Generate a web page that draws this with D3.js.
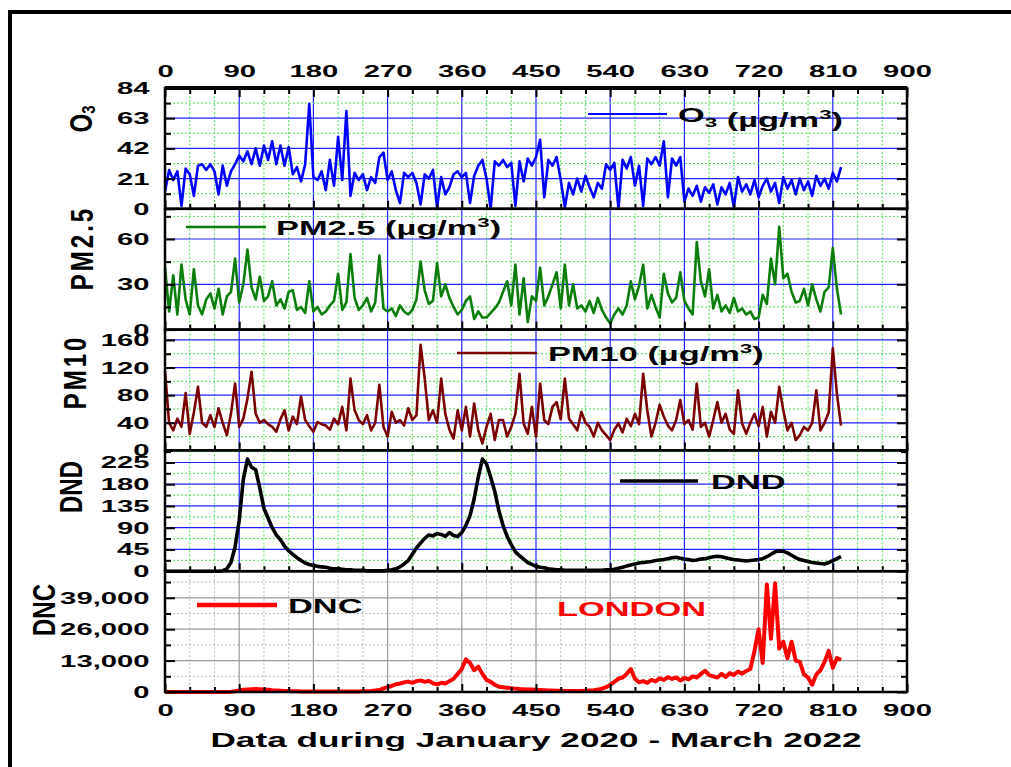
<!DOCTYPE html>
<html>
<head>
<meta charset="utf-8">
<script src="https://cdn.jsdelivr.net/npm/d3@7"></script>
<style>
  body { margin: 0; background: #fff; }
  text { font-family: "Liberation Sans", Arial, sans-serif; font-weight: bold; }
</style>
</head>
<body>
<svg width="1011" height="767"></svg>
<script>
// day index (every 5 days, Jan 2020 - Mar 2022)
const days = d3.range(0, 821, 5);

// values, one per 5 days
const o3 = [
  12,27,20,26,2,28,24,9,30,31,
  27,31,26,10,30,16,26,31,37,33,
  40,31,42,30,44,34,47,31,44,30,
  43,24,29,19,31,73,22,20,26,13,
  34,16,50,20,68,9,25,20,24,13,
  22,18,36,39,20,26,13,4,25,22,
  25,18,3,24,21,27,1,22,10,15,
  24,26,22,25,4,23,30,34,21,0,
  33,30,34,29,32,2,33,19,35,30,
  36,48,8,34,30,36,20,1,18,10,
  21,12,23,15,8,18,14,31,27,32,
  0,34,28,36,16,30,2,35,31,36,
  30,47,8,35,30,36,5,14,9,16,
  5,15,11,17,3,15,10,18,1,22,
  12,17,10,20,8,16,21,12,18,4,
  22,14,20,10,21,13,19,9,23,16,
  21,14,25,19,29
];
const pm25 = [
  41,12,36,10,43,20,10,40,16,10,
  20,24,14,27,10,22,25,47,18,30,
  53,28,20,35,19,22,32,16,20,14,
  25,26,13,15,11,32,12,15,10,12,
  16,19,37,13,18,50,21,13,16,21,
  12,18,49,14,12,14,9,16,12,10,
  13,20,45,26,17,19,44,22,30,21,
  15,10,13,19,22,7,12,8,8,11,
  14,18,25,32,16,43,10,34,5,22,
  19,41,16,22,30,38,14,43,16,30,
  14,16,12,19,11,21,13,8,4,10,
  14,10,16,32,20,29,43,14,23,15,
  8,37,24,18,21,38,19,14,10,58,
  32,22,40,14,23,12,16,11,21,12,
  14,10,12,7,8,23,17,47,30,68,
  34,37,25,18,19,27,16,30,20,12,
  25,28,54,27,10
];
const pm10 = [
  115,40,29,46,34,83,24,55,92,40,
  34,51,34,61,40,22,53,97,34,46,
  75,114,53,40,44,38,34,27,45,58,
  29,49,38,78,44,35,27,41,38,36,
  30,46,38,63,29,104,58,44,38,51,
  29,40,95,34,20,56,40,44,36,61,
  44,51,153,104,44,58,40,104,53,30,
  17,58,29,63,20,68,29,10,34,53,
  15,44,44,20,34,53,111,39,24,63,
  20,97,44,38,63,70,45,104,46,38,
  29,56,40,34,20,40,29,22,15,30,
  39,26,46,35,53,38,111,58,20,40,
  66,49,36,29,44,73,38,44,30,97,
  34,40,20,44,70,40,53,30,24,87,
  39,24,40,53,35,63,20,56,40,92,
  58,29,40,15,22,34,29,40,87,29,
  40,55,148,82,36
];
const dnd = [
  0,0,0,0,0,0,0,0,0,0,
  0,0,0,0,1,5,18,50,105,190,
  232,215,210,172,130,110,90,75,65,52,
  42,35,28,22,17,14,12,10,9,8,
  6,5,5,4,3,3,2,2,2,1,
  1,1,1,1,2,3,5,9,15,22,
  35,48,58,68,75,73,78,76,72,80,
  74,72,80,95,115,150,195,232,222,195,
  165,125,95,72,55,40,32,25,18,14,
  10,8,7,5,4,3,3,2,2,2,
  2,2,2,2,2,2,2,3,3,4,
  6,8,11,13,15,17,18,19,20,22,
  23,24,26,28,29,27,25,24,22,23,
  25,26,28,30,31,30,28,26,24,23,
  22,21,22,23,24,26,30,35,40,42,
  41,38,33,28,24,22,20,18,17,16,
  15,18,22,26,30
];
const dnc = [
  0,0,0,0,0,0,0,0,0,0,
  0,0,0,0,0,50,100,300,600,900,
  1000,1100,1200,1100,1000,900,700,600,500,400,
  400,300,300,250,200,200,200,200,200,200,
  200,200,200,200,200,200,200,250,300,350,
  400,600,800,1500,2000,2500,3200,3500,4000,4300,
  3800,4500,4800,4200,4600,3600,3200,3800,3500,4500,
  5500,7500,9500,13500,12000,9000,10500,7500,5000,4200,
  3000,2200,2000,1800,1600,1400,1200,1100,1000,1000,
  900,800,700,600,600,500,500,400,400,400,
  400,400,500,600,700,1000,1400,2000,3000,4200,
  5500,6000,7500,9500,5500,4000,4500,3800,5000,4400,
  5600,5000,6200,5400,6000,4800,5800,5200,6500,6000,
  7500,8800,7000,6500,6000,7500,6200,7800,7000,8500,
  7600,8700,9500,17000,26000,12000,44500,22000,45000,18000,
  20800,14000,20800,13000,12500,7300,6000,3000,7300,9000,
  12500,17000,10000,14000,13300
];

// tick values
const xLabels = d3.range(0, 901, 90);
const xMinor = d3.range(0, 901, 30);
const o3Ticks = [0, 21, 42, 63, 84];
const pm25Ticks = [0, 30, 60];
const pm10Ticks = [0, 40, 80, 120, 160];
const dndTicks = [0, 45, 90, 135, 180, 225];
const dncTicks = [0, 13000, 26000, 39000];

const svg = d3.select("svg");
const M = { left: 165, right: 907, top: 88, bottom: 692 };
const ph = (M.bottom - M.top) / 5;
const SX = 1.72; // the text in the picture is stretched sideways

const x = d3.scaleLinear().domain([0, 900]).range([M.left, M.right]);

const panels = [
  { data: o3, max: 84, ticks: o3Ticks, step: 21, color: "#0000ff", lw: 2.6, grid: "blue" },
  { data: pm25, max: 80, ticks: pm25Ticks, step: 30, color: "#0a7d0a", lw: 2.6, grid: "blue" },
  { data: pm10, max: 175, ticks: pm10Ticks, step: 40, color: "#7a0000", lw: 2.6, grid: "blue" },
  { data: dnd, max: 250, ticks: dndTicks, step: 45, color: "#000000", lw: 3.6, grid: "blue" },
  { data: dnc, max: 50000, ticks: dncTicks, step: 13000, color: "#ff0000", lw: 4, grid: "gray", fmt: d3.format(",") }
];

const gridCol = {
  blue: { major: "#2020ff", minor: "#50e050" },
  gray: { major: "#9c9c9c", minor: "#b8b8b8" }
};

function styleAxis(g, size) {
  g.select(".domain").remove();
  g.selectAll("line").attr("stroke", "#000").attr("stroke-width", 2);
  g.selectAll("text")
    .attr("font-size", size)
    .attr("font-family", '"Liberation Sans", Arial, sans-serif')
    .attr("font-weight", "bold")
    .attr("fill", "#000")
    .attr("transform", `scale(${SX},1)`);
}

panels.forEach((p, i) => {
  const y0 = M.top + i * ph, y1 = y0 + ph;
  const y = d3.scaleLinear().domain([0, p.max]).range([y1, y0]);
  const minorY = d3.range(p.step / 2, p.max, p.step);
  const majorY = p.ticks.filter(t => t > 0 && t < p.max);
  const col = gridCol[p.grid];
  const g = svg.append("g");

  // vertical grid
  g.selectAll(".vmin").data(xMinor.filter(d => d % 90 !== 0)).join("line")
    .attr("x1", d => x(d)).attr("x2", d => x(d)).attr("y1", y0).attr("y2", y1)
    .attr("stroke", col.minor).attr("stroke-width", 1).attr("stroke-dasharray", "2,2");
  g.selectAll(".vmaj").data(xLabels.filter(d => d > 0 && d < 900)).join("line")
    .attr("x1", d => x(d)).attr("x2", d => x(d)).attr("y1", y0).attr("y2", y1)
    .attr("stroke", col.major).attr("stroke-width", 1.2);
  // horizontal grid
  g.selectAll(".hmin").data(minorY).join("line")
    .attr("x1", M.left).attr("x2", M.right).attr("y1", d => y(d)).attr("y2", d => y(d))
    .attr("stroke", col.minor).attr("stroke-width", 1).attr("stroke-dasharray", "2,2");
  g.selectAll(".hmaj").data(majorY).join("line")
    .attr("x1", M.left).attr("x2", M.right).attr("y1", d => y(d)).attr("y2", d => y(d))
    .attr("stroke", col.major).attr("stroke-width", 1.2);

  // data line
  const line = d3.line().x((d, j) => x(days[j])).y(d => y(d));
  g.append("path").datum(p.data).attr("d", line)
    .attr("fill", "none").attr("stroke", p.color).attr("stroke-width", p.lw)
    .attr("stroke-linejoin", "round");

  // left axis with labels
  g.append("g").attr("transform", `translate(${M.left},0)`)
    .call(d3.axisLeft(y).tickValues(p.ticks).tickSizeInner(-10).tickSizeOuter(0).tickPadding(9)
      .tickFormat(p.fmt || d3.format("d")))
    .call(a => styleAxis(a, 17));
  g.append("g").attr("transform", `translate(${M.left},0)`)
    .call(d3.axisLeft(y).tickValues(minorY).tickSizeInner(-6).tickSizeOuter(0).tickFormat(""))
    .call(a => styleAxis(a, 17));
  // right axis
  g.append("g").attr("transform", `translate(${M.right},0)`)
    .call(d3.axisRight(y).tickValues(p.ticks).tickSizeInner(-10).tickSizeOuter(0).tickFormat(""))
    .call(a => styleAxis(a, 17));
  g.append("g").attr("transform", `translate(${M.right},0)`)
    .call(d3.axisRight(y).tickValues(minorY).tickSizeInner(-6).tickSizeOuter(0).tickFormat(""))
    .call(a => styleAxis(a, 17));
  // bottom ticks (pointing up)
  const last = i === panels.length - 1;
  g.append("g").attr("transform", `translate(0,${y1})`)
    .call(d3.axisBottom(x).tickValues(xLabels).tickSizeInner(-8).tickSizeOuter(0).tickPadding(12)
      .tickFormat(last ? d3.format("d") : ""))
    .call(a => styleAxis(a, 17));
  g.append("g").attr("transform", `translate(0,${y1})`)
    .call(d3.axisBottom(x).tickValues(xMinor.filter(d => d % 90 !== 0)).tickSizeInner(-5).tickSizeOuter(0).tickFormat(""))
    .call(a => styleAxis(a, 17));

  // panel border
  g.append("rect").attr("x", M.left).attr("y", y0).attr("width", M.right - M.left).attr("height", ph)
    .attr("fill", "none").attr("stroke", "#000").attr("stroke-width", 2.5);
});

// top axis
svg.append("g").attr("transform", `translate(0,${M.top})`)
  .call(d3.axisTop(x).tickValues(xLabels).tickSizeInner(-9).tickSizeOuter(0).tickPadding(11).tickFormat(d3.format("d")))
  .call(a => styleAxis(a, 17));
svg.append("g").attr("transform", `translate(0,${M.top})`)
  .call(d3.axisTop(x).tickValues(xMinor.filter(d => d % 90 !== 0)).tickSizeInner(-6).tickSizeOuter(0).tickFormat(""))
  .call(a => styleAxis(a, 17));
svg.append("line").attr("x1", M.left).attr("x2", M.right).attr("y1", M.top).attr("y2", M.top)
  .attr("stroke", "#000").attr("stroke-width", 4);

// y titles (rotated)
function yTitle(bx, cy, parts, spacing) {
  const t = svg.append("text")
    .attr("transform", `translate(${bx},${cy}) scale(1.28,1) rotate(-90)`)
    .attr("text-anchor", "middle").attr("font-size", 24).attr("fill", "#000")
    .attr("letter-spacing", spacing || 0);
  parts(t);
}
yTitle(92, 119, t => { t.append("tspan").text("O"); t.append("tspan").attr("font-size", 15).attr("dy", 2).text("3"); });
yTitle(93, 248, t => t.text("PM2.5"), 3);
yTitle(86, 372, t => t.text("PM10"), 3);
yTitle(82, 487, t => t.text("DND"));
yTitle(55, 610, t => t.text("DNC"));

// legends
function legend(x1, x2, ly, color, lw, tx, build) {
  svg.append("line").attr("x1", x1).attr("x2", x2).attr("y1", ly).attr("y2", ly)
    .attr("stroke", color).attr("stroke-width", lw);
  const t = svg.append("text").attr("transform", `translate(${tx},${ly + 8}) scale(${SX},1)`)
    .attr("font-size", 20).attr("fill", "#000");
  build(t);
}
function unit(t) {
  t.append("tspan").text(" (\u00b5g/m");
  t.append("tspan").attr("font-size", 13).attr("dy", -8).text("3");
  t.append("tspan").attr("dy", 8).text(")");
}
legend(588, 667, 114, "#0000ff", 2.2, 678, t => {
  t.append("tspan").text("O");
  t.append("tspan").attr("font-size", 13).attr("dy", 5).text("3");
  t.append("tspan").attr("dy", -5).text("");
  unit(t);
});
legend(186, 266, 227, "#0a7d0a", 2.5, 276, t => { t.append("tspan").text("PM2.5"); unit(t); });
legend(457, 537, 353, "#7a0000", 2.5, 548, t => { t.append("tspan").text("PM10"); unit(t); });
legend(620, 698, 481, "#000", 3.5, 711, t => t.text("DND"));
legend(197, 277, 605, "#ff0000", 4.5, 288, t => t.text("DNC"));

svg.append("text").attr("transform", `translate(557,616) scale(${SX},1)`)
  .attr("font-size", 20).attr("fill", "#ff0000").text("LONDON");

// x title
svg.append("text").attr("transform", `translate(536,747) scale(1.76,1)`)
  .attr("text-anchor", "middle").attr("font-size", 20).attr("fill", "#000")
  .text("Data during January 2020 - March 2022");

// outer frame
svg.append("path").attr("d", "M10,767V12H1011").attr("fill", "none")
  .attr("stroke", "#000").attr("stroke-width", 4);
</script>
</body>
</html>
